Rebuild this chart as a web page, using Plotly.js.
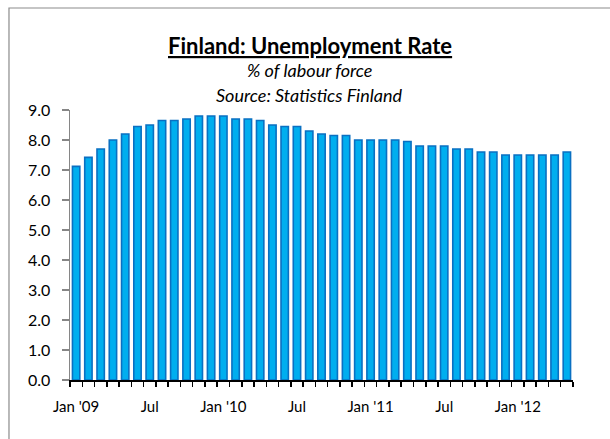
<!DOCTYPE html>
<html>
<head>
<meta charset="utf-8">
<script src="https://cdn.plot.ly/plotly-3.0.1.min.js"></script>
<style>
html,body{margin:0;padding:0;background:#fff;overflow:hidden;}
#chart{width:610px;height:439px;}
</style>
</head>
<body>
<div id="chart"></div>
<script>
// Monthly categories, Jan 2009 .. May 2012
const months = [
  "Jan 2009","Feb 2009","Mar 2009","Apr 2009","May 2009","Jun 2009","Jul 2009","Aug 2009","Sep 2009","Oct 2009","Nov 2009","Dec 2009",
  "Jan 2010","Feb 2010","Mar 2010","Apr 2010","May 2010","Jun 2010","Jul 2010","Aug 2010","Sep 2010","Oct 2010","Nov 2010","Dec 2010",
  "Jan 2011","Feb 2011","Mar 2011","Apr 2011","May 2011","Jun 2011","Jul 2011","Aug 2011","Sep 2011","Oct 2011","Nov 2011","Dec 2011",
  "Jan 2012","Feb 2012","Mar 2012","Apr 2012","May 2012"
];
// Unemployment rate, % of labour force
const unemploymentRate = [
  7.12, 7.42, 7.70, 8.00, 8.20, 8.45, 8.50, 8.65, 8.65, 8.70, 8.80, 8.80,
  8.80, 8.70, 8.70, 8.65, 8.50, 8.45, 8.45, 8.30, 8.20, 8.15, 8.15, 8.00,
  8.00, 8.00, 8.00, 7.95, 7.80, 7.80, 7.80, 7.70, 7.70, 7.60, 7.60, 7.50,
  7.50, 7.50, 7.50, 7.50, 7.60
];
// Labels shown every 6 months
const tickLabels = ["Jan '09","Jul","Jan '10","Jul","Jan '11","Jul","Jan '12"];
const tickEvery = 6;

const ticktext = months.map((m, i) => (i % tickEvery === 0 && tickLabels[i / tickEvery] !== undefined) ? tickLabels[i / tickEvery] : "");

const FONT = "Lato, 'Open Sans', sans-serif";

const trace = {
  type: "bar",
  x: months,
  y: unemploymentRate,
  marker: {
    color: "#00AEEF",
    line: { color: "#0A70C2", width: 1.6 }
  },
  hoverinfo: "x+y"
};

const layout = {
  width: 610,
  height: 439,
  margin: { l: 70, r: 37, t: 110, b: 59 },
  paper_bgcolor: "#ffffff",
  plot_bgcolor: "#ffffff",
  showlegend: false,
  bargap: 0.4,
  font: { family: FONT, size: 15, color: "#000" },
  xaxis: {
    type: "category",
    range: [-0.5, months.length - 0.5],
    tickmode: "array",
    tickvals: months,
    ticktext: ticktext,
    tickson: "boundaries",
    ticks: "outside",
    ticklen: 5,
    tickwidth: 1.5,
    tickcolor: "#000",
    showline: true,
    linecolor: "#000",
    linewidth: 1.5,
    showgrid: false,
    zeroline: false,
    tickangle: 0,
    ticklabelstandoff: 12,
    tickfont: { family: FONT, size: 15, color: "#000" }
  },
  yaxis: {
    range: [0, 9],
    dtick: 1,
    tick0: 0,
    tickformat: ".1f",
    ticks: "outside",
    ticklen: 7,
    tickwidth: 1.5,
    tickcolor: "#868686",
    showline: true,
    linecolor: "#868686",
    linewidth: 1.5,
    showgrid: false,
    zeroline: false,
    ticklabelstandoff: 8,
    tickfont: { family: FONT, size: 16, color: "#000" }
  },
  annotations: [
    {
      text: "<b><u>Finland: Unemployment Rate</u></b>",
      xref: "paper", yref: "paper", x: 0.477, y: 1.2407,
      xanchor: "center", yanchor: "middle", showarrow: false,
      font: { family: FONT, size: 22, color: "#000" }
    },
    {
      text: "<i>% of labour force</i>",
      xref: "paper", yref: "paper", x: 0.477, y: 1.148,
      xanchor: "center", yanchor: "middle", showarrow: false,
      font: { family: FONT, size: 18, color: "#000" }
    },
    {
      text: "<i>Source: Statistics Finland</i>",
      xref: "paper", yref: "paper", x: 0.477, y: 1.0556,
      xanchor: "center", yanchor: "middle", showarrow: false,
      font: { family: FONT, size: 18, color: "#000" }
    }
  ],
  shapes: [
    {
      type: "rect", xref: "paper", yref: "paper",
      x0: -0.1213, x1: 1.3, y0: -0.5, y1: 1.3778,
      line: { color: "#8C8C8C", width: 1.2 },
      fillcolor: "rgba(0,0,0,0)",
      layer: "below"
    }
  ]
};

Plotly.newPlot("chart", [trace], layout, { displayModeBar: false, staticPlot: true });
</script>
</body>
</html>
